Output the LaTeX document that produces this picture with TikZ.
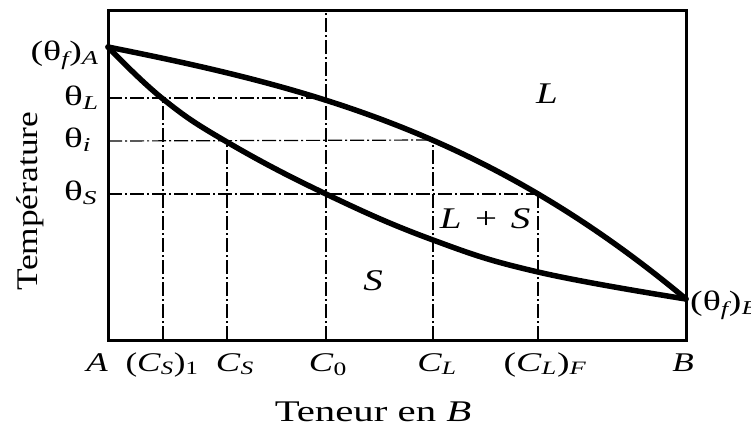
\documentclass[tikz,border=0pt]{standalone}
\usepackage{fontspec}
\usepackage{graphicx}
\setmainfont{Liberation Serif}
\newcommand{\sbi}[1]{\textsubscript{\itshape #1}}
\newcommand{\sx}[2][1.35]{\scalebox{#1}[1]{#2}}
\begin{document}
\begin{tikzpicture}[x=1pt,y=-1pt,
  frame/.style={line width=3pt},
  curve/.style={line width=5.5pt, line cap=round},
  guide/.style={line width=1.2pt, dash pattern=on 14pt off 3pt on 2pt off 3pt},
  lab/.style={inner sep=0pt, font=\fontsize{29}{34}\selectfont},
  tick/.style={inner sep=0pt, anchor=base, font=\fontsize{27}{32}\selectfont},
  ]
\useasboundingbox (0,0) rectangle (751,426);
% frame corners
\coordinate (TL) at (108,10);
\coordinate (BR) at (686,340);
% melting points
\coordinate (FA) at (108,47);
\coordinate (FB) at (686,299);
% liquidus control points
\coordinate (LC1) at (308,87);
\coordinate (LC2) at (486,132);
% liquidus points
\coordinate (L0) at (326,98);
\coordinate (LL) at (433,140);
\coordinate (LF) at (538,194);
% solidus points
\coordinate (S1) at (163,99);
\coordinate (SS) at (227,142);
\coordinate (S0) at (326,194);
\coordinate (SL) at (433,240);
\coordinate (SF) at (538,272);
% axis feet
\coordinate (yL) at (108,98);
\coordinate (yI) at (108,141);
\coordinate (yS) at (108,194);
\coordinate (x1) at (163,340);
\coordinate (xS) at (227,340);
\coordinate (x0) at (326,340);
\coordinate (x0t) at (326,10);
\coordinate (xL) at (433,340);
\coordinate (xF) at (538,340);
% guides
\draw[guide] (yL) -- (L0);
\draw[guide] (yI) -- (LL);
\draw[guide] (yS) -- (LF);
\draw[guide] (x1) -- (S1);
\draw[guide] (xS) -- (SS);
\draw[guide] (x0) -- (x0t);
\draw[guide] (xL) -- (LL);
\draw[guide] (xF) -- (LF);
% curves
\draw[curve] (FA) .. controls (LC1) and (LC2) .. (FB);
\draw[curve] plot[smooth, tension=0.7] coordinates {(FA) (S1) (SS) (S0) (SL) (SF) (FB)};
% frame
\draw[frame] (TL) rectangle (BR);
% left labels
\node[lab, font=\fontsize{28}{33}\selectfont, anchor=base east] (tfa) at (99,60) {\sx{(θ\sbi{f})\sbi{A}}};
\node[lab, font=\fontsize{28}{33}\selectfont, anchor=base west] (tl) at (64,105) {\sx[1.4]{θ\sbi{L}}};
\node[lab, font=\fontsize{28}{33}\selectfont, anchor=base west] (ti) at (64,147) {\sx[1.4]{θ\sbi{i}}};
\node[lab, font=\fontsize{28}{33}\selectfont, anchor=base west] (ts) at (64,200) {\sx[1.4]{θ\sbi{S}}};
\node[lab, font=\fontsize{28}{33}\selectfont, anchor=base west] (tfb) at (690,310) {\sx{(θ\sbi{f})\sbi{B}}};
% bottom labels
\node[tick] (nA) at (97,371) {\sx[1.3]{\itshape A}};
\node[tick] (nCS1) at (162,371) {\sx[1.3]{(\textit{C}\sbi{S})\textsubscript{1}}};
\node[tick] (nCS) at (235,371) {\sx[1.35]{\textit{C}\sbi{S}}};
\node[tick] (nC0) at (328,371) {\sx[1.35]{\textit{C}\textsubscript{0}}};
\node[tick] (nCL) at (437,371) {\sx[1.35]{\textit{C}\sbi{L}}};
\node[tick] (nCLF) at (545,371) {\sx[1.4]{(\textit{C}\sbi{L})\sbi{F}}};
\node[tick] (nB) at (683,371) {\sx[1.3]{\itshape B}};
% region labels
\node[lab, font=\fontsize{30}{35}\selectfont, anchor=base] (rL) at (547,103) {\sx[1.3]{\itshape L}};
\node[lab, font=\fontsize{30}{35}\selectfont, anchor=base] (rLS) at (485,228) {\sx[1.3]{\textit{L}\hspace{0.35em}+\hspace{0.35em}\textit{S}}};
\node[lab, font=\fontsize{30}{35}\selectfont, anchor=base] (rS) at (373,290) {\sx[1.3]{\itshape S}};
% axis titles
\node[lab, font=\fontsize{30}{35}\selectfont, anchor=base, rotate=90] (yt) at (37,201) {\sx[1.18]{Température}};
\node[lab, font=\fontsize{30}{35}\selectfont, anchor=base] (xt) at (373,421) {\sx[1.36]{Teneur en \textit{B}}};
\end{tikzpicture}
\end{document}
